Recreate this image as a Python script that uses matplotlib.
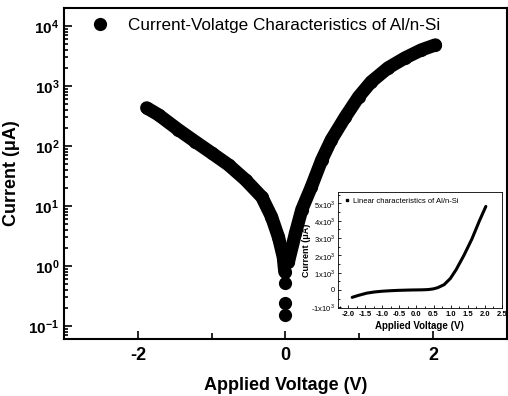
import numpy as np
import matplotlib.pyplot as plt
from matplotlib.ticker import FixedLocator, LogLocator, NullFormatter, FuncFormatter

plt.rcParams['font.family'] = ['Liberation Sans', 'DejaVu Sans']
plt.rcParams['axes.unicode_minus'] = False
plt.rcParams['mathtext.fontset'] = 'custom'
plt.rcParams['mathtext.rm'] = 'Liberation Sans'
plt.rcParams['mathtext.bf'] = 'Liberation Sans:bold'

# reverse branch (V < 0), |I| in uA
v_rev = [-1.88, -1.72, -1.45, -1.22, -1.00, -0.77, -0.54, -0.32, -0.19, -0.095, -0.03, -0.01]
i_rev = [430, 329, 185, 117, 76, 48, 27, 14, 6.6, 3.0, 1.4, 0.8]
# forward branch (V > 0)
v_fwd = [0.04, 0.135, 0.22, 0.35, 0.49, 0.62, 0.81, 0.99, 1.16, 1.39, 1.62, 1.84, 2.03]
i_fwd = [1.17, 3.5, 8.6, 20.7, 58, 126, 304, 656, 1166, 2000, 2930, 3980, 4820]
# scattered points near zero bias
v_zero = [0.0, -0.01, -0.005]
i_zero = [0.52, 0.24, 0.15]

main_label = 'Current-Volatge Characteristics of Al/n-Si'
inset_label = 'Linear characteristics of Al/n-Si'

fig = plt.figure(figsize=(5.08, 3.96), dpi=100)
ax = fig.add_axes([0.126, 0.144, 0.872, 0.836])

ms = 9.5
for v, i in [(v_rev, i_rev), (v_fwd, i_fwd)]:
    ax.plot(v, i, '-', color='black', lw=ms, solid_capstyle='round', solid_joinstyle='round')
    ax.plot(v, i, 'o', color='black', ms=ms, mew=0)
ax.plot(v_zero, i_zero, 'o', color='black', ms=ms, mew=0, label=main_label)

ax.set_yscale('log')
ax.set_xlim(-3, 3)
ax.set_ylim(10**-1.22, 10**4.3)
ax.xaxis.set_major_locator(FixedLocator([-2, 0, 2]))
ax.xaxis.set_minor_locator(FixedLocator([-1, 1]))
ax.yaxis.set_major_locator(LogLocator(base=10, numticks=10))
ax.yaxis.set_major_formatter(FuncFormatter(lambda y, p: r'$\mathbf{10^{%d}}$' % round(np.log10(y))))
ax.yaxis.set_minor_locator(LogLocator(base=10, subs=np.arange(2, 10), numticks=20))
ax.yaxis.set_minor_formatter(NullFormatter())
ax.tick_params(which='both', direction='in', labelsize=11, width=1.2)
ax.tick_params(which='major', length=6)
ax.tick_params(which='minor', length=3)
ax.tick_params(axis='x', which='minor', length=4)
ax.tick_params(axis='x', labelsize=13, pad=6)
for lbl in ax.get_xticklabels():
    lbl.set_fontweight('bold')
for s in ax.spines.values():
    s.set_linewidth(1.5)
ax.set_xlabel('Applied Voltage (V)', fontsize=13, fontweight='bold', labelpad=9)
ax.set_ylabel('Current (\u03bcA)', fontsize=13, fontweight='bold', labelpad=6)
ax.legend(loc='upper left', frameon=False, fontsize=12.3, handletextpad=0.6,
          borderaxespad=0.2, bbox_to_anchor=(0.02, 1.0))

# inset: linear scale
ins = fig.add_axes([0.665, 0.222, 0.323, 0.293])
v_all = v_rev + v_fwd
i_all = [-i for i in i_rev] + i_fwd
ins.plot(v_all, i_all, '-', color='black', lw=2.2, solid_capstyle='round')
ins.plot([], [], 's', color='black', ms=2, label=inset_label)
ins.set_xlim(-2.3, 2.5)
ins.set_ylim(-1050, 5650)
xt = np.arange(-2.0, 2.51, 0.5)
ins.set_xticks(xt)
ins.set_xticklabels(['%.1f' % t for t in xt])
ins.xaxis.set_minor_locator(FixedLocator(np.arange(-2.25, 2.5, 0.5)))
yt = [-1000, 0, 1000, 2000, 3000, 4000, 5000]
ins.set_yticks(yt)
ins.set_yticklabels(['-1x10$^3$', '0', '1x10$^3$', '2x10$^3$', '3x10$^3$', '4x10$^3$', '5x10$^3$'])
ins.yaxis.set_minor_locator(FixedLocator(np.arange(-500, 5600, 1000)))
ins.tick_params(which='both', direction='in', labelsize=5.5, width=0.6, pad=2)
ins.tick_params(which='major', length=2.5)
ins.tick_params(which='minor', length=1.5)
for lbl in ins.get_xticklabels():
    lbl.set_fontweight('bold')
for s in ins.spines.values():
    s.set_linewidth(0.6)
ins.set_xlabel('Applied Voltage (V)', fontsize=7, fontweight='bold', labelpad=2)
ins.set_ylabel('Current (\u03bcA)', fontsize=6.5, fontweight='bold', labelpad=0)
ins.legend(loc='upper left', frameon=False, fontsize=5.5, handletextpad=0.3,
           borderaxespad=0.3, handlelength=1.0)

fig.savefig('out.png', dpi=100)
